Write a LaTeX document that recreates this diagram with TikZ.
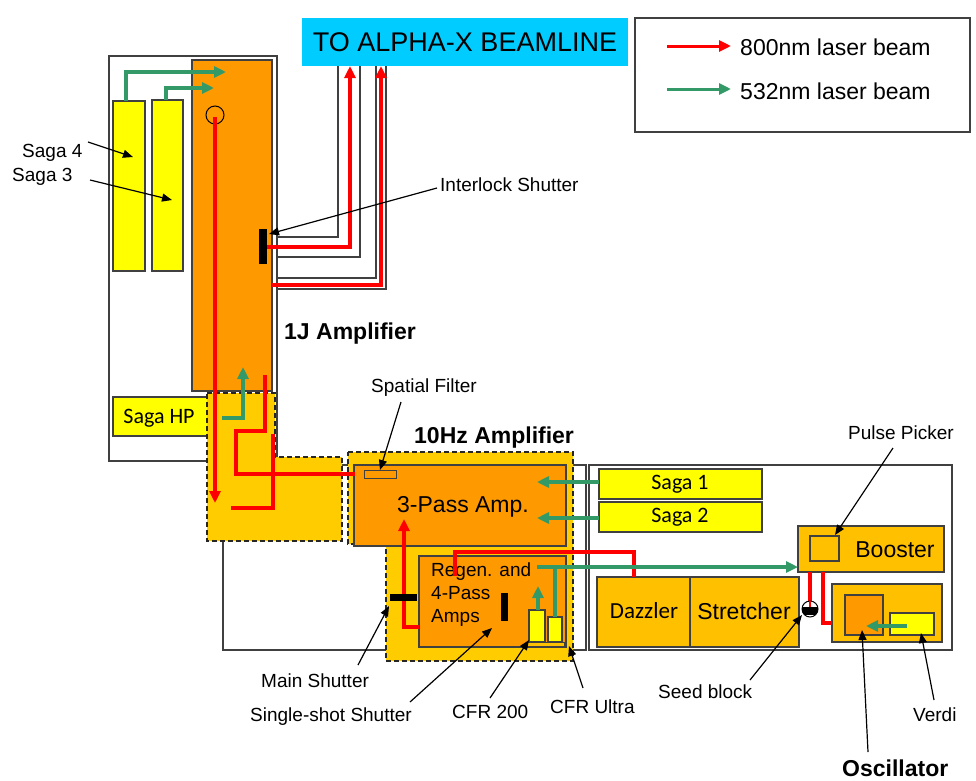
\documentclass[tikz,border=0pt]{standalone}
\usepackage{fontspec}
\setmainfont{Liberation Sans}
\newfontfamily\calib{Carlito}
\usetikzlibrary{arrows.meta}
\definecolor{ampor}{RGB}{255,153,0}
\definecolor{dashy}{RGB}{255,204,0}
\definecolor{boxy}{RGB}{255,192,0}
\definecolor{sagay}{RGB}{255,255,0}
\definecolor{beamc}{RGB}{0,204,255}
\definecolor{redb}{RGB}{255,0,0}
\definecolor{grnb}{RGB}{51,153,102}
\definecolor{edgec}{RGB}{64,64,64}
\begin{document}
\begin{tikzpicture}[x=1pt,y=-1pt,
  wbox/.style={draw=edgec, line width=1.3pt, fill=white},
  comp/.style={draw=edgec, line width=1.3pt},
  dbox/.style={draw=black!85, line width=1.3pt, dash pattern=on 5pt off 3pt, fill=dashy},
  rbeam/.style={draw=redb, line width=3.5pt},
  gbeam/.style={draw=grnb, line width=3.5pt},
  rtip/.style={-{Triangle[length=12pt,width=11pt]}},
  tube/.style={draw=edgec, line width=1.2pt},
  lbl/.style={font=\fontsize{19}{22}\selectfont, inner sep=0pt, anchor=west},
  big/.style={font=\fontsize{23}{26}\selectfont, inner sep=0pt},
  bold/.style={font=\fontsize{23}{26}\selectfont\bfseries, inner sep=0pt, anchor=west},
  lead/.style={draw=black, line width=1.2pt, -{Triangle[length=10pt,width=8pt]}}]
\useasboundingbox (0,0) rectangle (976,780);

% enclosures
\draw[wbox] (109,56) rectangle (277,461);
\draw[wbox] (223,465) rectangle (586,650);
\draw[wbox] (589,465) rectangle (952,650);

% legend
\draw[wbox] (635,18) rectangle (970,132);
\draw[rbeam, line width=3pt, rtip] (667,46) coordinate (lr1) -- (731,46) coordinate (lr2);
\node[big, anchor=west] (l800) at (740,47) {800nm laser beam};
\draw[gbeam, line width=3pt, rtip] (667,89) coordinate (lg1) -- (731,89) coordinate (lg2);
\node[big, anchor=west] (l532) at (740,91) {532nm laser beam};

% beamline
\node[fill=beamc, minimum width=326pt, minimum height=48pt, inner sep=0pt,
      font=\fontsize{27}{30}\selectfont] (beam) at (465,42) {TO ALPHA-X BEAMLINE};

% 1J amplifier
\draw[comp, fill=sagay] (113,101) rectangle (145,271);
\draw[comp, fill=sagay] (152,100) rectangle (183,271);
\draw[comp, fill=ampor] (192,60) rectangle (272,391);
\draw[gbeam, rtip] (126,101) |- (226,72);
\draw[gbeam, rtip] (166,100) |- (214,88);
\draw[black, line width=1pt] (215,115) circle (9pt);

% beam tubes to beamline
\draw[tube] (277,237) -| (338,66);
\draw[tube] (277,257) -| (360,66);
\draw[tube] (277,278) -| (376,66);
\draw[tube] (277,289) -| (386,66);
\draw[rbeam, rtip] (267,247) -| (350,66);
\draw[rbeam, rtip] (272,285) -| (381,66);
\fill[black] (259,229) rectangle (267,264);

% Saga HP and transport box
\draw[comp, fill=sagay] (113,397) rectangle (212,436);
\node[inner sep=0pt, font=\calib\fontsize{22}{24}\selectfont] (sagahp) at (159,418) {Saga HP};
\draw[dbox] (207,393) -- (275,393) -- (275,457) -- (342,457) -- (342,541) -- (207,541) -- cycle;

% 10 Hz amplifier
\draw[dbox] (348,452) -- (573,452) -- (573,661) -- (386,661) -- (386,544) -- (348,544) -- cycle;
\draw[comp, fill=ampor] (354,465) rectangle (566,546);
\node[big] (threepass) at (463,507) {3-Pass Amp.};
\draw[edgec, line width=1pt, fill=ampor] (364,470) rectangle (396,478);
\draw[comp, fill=ampor] (419,556) rectangle (566,647);
\node[inner sep=0pt, anchor=north west, align=left, font=\fontsize{19}{23}\selectfont] (regen) at (431,563) {Regen. and\\4-Pass\\Amps};
\fill[black] (501,593) rectangle (508,621);
\draw[edgec, line width=1pt, fill=boxy] (527,642) rectangle (564,646);
\draw[comp, fill=sagay] (529,610) rectangle (545,642);
\draw[comp, fill=sagay] (548,617) rectangle (562,642);

% right table
\draw[comp, fill=sagay] (599,469) rectangle (762,499);
\node[inner sep=0pt, font=\calib\fontsize{22}{24}\selectfont] (saga1) at (680,484) {Saga 1};
\draw[comp, fill=sagay] (599,502) rectangle (762,532);
\node[inner sep=0pt, font=\calib\fontsize{22}{24}\selectfont] (saga2) at (680,517) {Saga 2};
\draw[comp, fill=boxy] (798,526) rectangle (944,572);
\draw[comp, fill=boxy] (810,536) rectangle (839,561);
\node[big] (booster) at (895,550) {Booster};
\draw[comp, fill=boxy] (597,577) rectangle (690,647);
\node[inner sep=0pt, font=\calib\fontsize{23}{26}\selectfont] (dazzler) at (644,611) {Dazzler};
\draw[comp, fill=boxy] (690,577) rectangle (799,647);
\node[big] (stretcher) at (744,611) {Stretcher};
\draw[comp, fill=boxy] (832,584) rectangle (942,642);
\draw[comp, fill=ampor] (845,595) rectangle (883,635);
\draw[comp, fill=sagay] (890,613) rectangle (934,635);

% beams
\draw[rbeam, rtip] (215,117) -- (215,503);
\draw[rbeam] (355,474) -| (236,431) -| (265,375);
\draw[rbeam] (273,434) |- (231,508);
\draw[gbeam, rtip] (222,418) -| (243,367);
\draw[gbeam, rtip] (599,482) -- (537,482);
\draw[gbeam, rtip] (599,518) -- (537,518);
\draw[rbeam, rtip] (419,627) -| (404,519);
\fill[black] (390,594) rectangle (417,601);
\draw[rbeam] (634,577) |- (455,552) -- (455,576);
\draw[gbeam, rtip] (538,610) -- (538,586);
\draw[gbeam] (555,617) -- (555,567);
\draw[gbeam, rtip] (537,567) -- (798,567);
\draw[gbeam, rtip] (907,626) -- (866,626);
\draw[rbeam] (810,572) -- (810,603);
\draw[rbeam] (823,572) |- (832,623);
% seed block
\fill[white] (810,609) circle (8pt);
\begin{scope}
  \clip (810,609) circle (8pt);
  \fill[black] (800,607) rectangle (820,615);
\end{scope}
\draw[black, line width=1pt] (810,609) circle (8pt);
\draw[redb, line width=2pt] (810,601) -- (810,607);

% titles
\node[bold] (oneJ) at (284,334) {1J Amplifier};
\node[bold] (tenHz) at (414,438) {10Hz Amplifier};
\node[bold] (osc) at (842,768) {Oscillator};

% labels
\node[lbl] (saga4) at (22,153) {Saga 4};
\node[lbl] (saga3) at (12,177) {Saga 3};
\node[lbl] (inter) at (440,185) {Interlock Shutter};
\node[lbl] (spat) at (371,388) {Spatial Filter};
\node[lbl] (pulse) at (848,433) {Pulse Picker};
\node[lbl] (mains) at (261,681) {Main Shutter};
\node[lbl] (single) at (250,717) {Single-shot Shutter};
\node[lbl] (cfr200) at (452,712) {CFR 200};
\node[lbl] (cfrult) at (550,707) {CFR Ultra};
\node[lbl] (seed) at (658,692) {Seed block};
\node[lbl] (verdi) at (913,715) {Verdi};

\draw[lead] (88,142) -- (133,157);
\draw[lead] (90,180) -- (172,200);
\draw[lead] (437,188) -- (269,234);
\draw[lead] (401,402) -- (380,470);
\draw[lead] (893,448) -- (835,535);
\draw[lead] (358,665) -- (389,606);
\draw[lead] (410,702) -- (492,628);
\draw[lead] (490,698) -- (529,640);
\draw[lead] (583,688) -- (569,646);
\draw[lead] (750,680) -- (802,615);
\draw[lead] (868,752) -- (862,630);
\draw[lead] (934,700) -- (921,633);
\end{tikzpicture}
\end{document}
